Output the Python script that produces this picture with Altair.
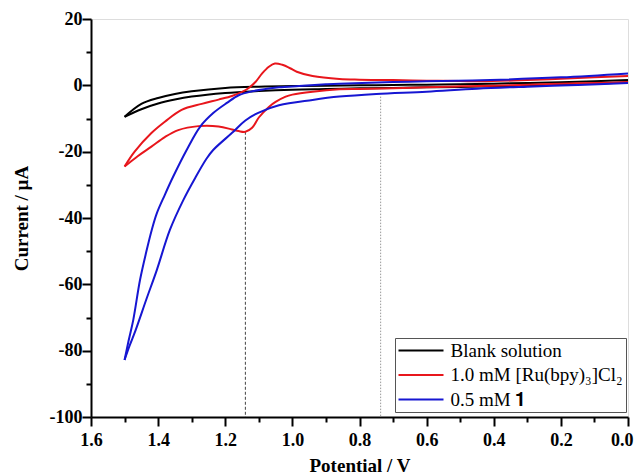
import altair as alt
import pandas as pd

# ---------------- data ----------------
series_names = ["Blank solution", "1.0 mM [Ru(bpy)\u2083]Cl\u2082", "0.5 mM \U0001D7CF"]
series_colors = ["#000000", "#e8161c", "#1616d2"]

# Blank solution: forward (0 -> 1.5 V) then reverse (1.5 -> 0 V)
blank_E = [0.0, 0.1, 0.2, 0.3, 0.4, 0.5, 0.6, 0.7, 0.8, 0.9, 1.0, 1.1, 1.2, 1.3, 1.35, 1.4, 1.45, 1.5,
           1.45, 1.4, 1.35, 1.3, 1.2, 1.1, 1.0, 0.9, 0.8, 0.7, 0.6, 0.5, 0.4, 0.3, 0.2, 0.1, 0.0]
blank_I = [0.9, 0.5, 0.2, -0.1, -0.3, -0.5, -0.6, -0.8, -0.9, -1.1, -1.3, -1.7, -2.3, -3.4, -4.3, -5.5, -7.2, -9.5,
           -5.6, -3.8, -2.6, -1.8, -0.8, -0.4, -0.2, -0.1, 0.0, 0.1, 0.2, 0.3, 0.5, 0.7, 0.9, 1.2, 1.6]

# 1.0 mM [Ru(bpy)3]Cl2
ru_E = [0.0, 0.1, 0.2, 0.3, 0.4, 0.5, 0.6, 0.7, 0.8, 0.86, 0.94, 1.0, 1.02, 1.05, 1.07, 1.1, 1.12, 1.14,
        1.16, 1.18, 1.22, 1.28, 1.34, 1.38, 1.42, 1.46, 1.5,
        1.47, 1.42, 1.38, 1.33, 1.27, 1.22, 1.18, 1.15, 1.13, 1.11, 1.09, 1.07, 1.052, 1.03, 1.0, 0.987,
        0.94, 0.86, 0.8, 0.7, 0.6, 0.5, 0.44, 0.3, 0.2, 0.1, 0.0]
ru_I = [1.0, 0.7, 0.5, 0.2, -0.1, -0.3, -0.6, -0.9, -1.1, -1.2, -1.9, -2.8, -3.4, -5.0, -6.5, -9.7, -12.8, -14.0,
        -13.8, -13.3, -12.4, -12.3, -13.5, -15.6, -18.5, -21.3, -24.5,
        -20.0, -14.4, -11.0, -7.4, -5.6, -4.3, -3.2, -2.0, -0.8, 1.0, 3.6, 5.6, 6.6, 6.2, 4.8, 4.1,
        2.8, 1.9, 1.7, 1.6, 1.4, 1.3, 1.2, 1.6, 2.0, 2.4, 2.8]

# 0.5 mM 1
c1_E = [0.0, 0.15, 0.3, 0.45, 0.6, 0.75, 0.86, 0.94, 1.04, 1.1, 1.14, 1.176, 1.236, 1.255, 1.29, 1.325,
        1.365, 1.404, 1.435, 1.467, 1.485, 1.5,
        1.488, 1.474, 1.454, 1.436, 1.419, 1.404, 1.38, 1.355, 1.315, 1.275, 1.235, 1.195, 1.16, 1.12,
        1.08, 1.04, 0.98, 0.9, 0.86, 0.7, 0.6, 0.41, 0.2, 0.0]
c1_I = [0.7, 0.1, -0.4, -1.0, -1.9, -2.6, -3.4, -4.4, -6.0, -8.2, -10.6, -14.0, -19.5, -22.0, -28.0, -34.6,
        -43.6, -55.7, -64.5, -73.8, -78.5, -82.8,
        -77.0, -70.7, -58.7, -50.5, -43.6, -38.6, -33.0, -27.5, -19.5, -12.5, -8.3, -5.3, -3.0, -1.8,
        -1.1, -0.6, -0.2, 0.3, 0.5, 1.0, 1.2, 1.6, 2.4, 3.6]

# guide lines (potential, top current)
guide_E = [1.14, 0.737]
guide_top = [-14.0, -3.4]
y_bottom = -100

x_major = [0.0, 0.2, 0.4, 0.6, 0.8, 1.0, 1.2, 1.4, 1.6]
x_minor = [0.1, 0.3, 0.5, 0.7, 0.9, 1.1, 1.3, 1.5]
y_major = [-100, -80, -60, -40, -20, 0, 20]
y_minor = [-90, -70, -50, -30, -10, 10]

# ---------------- tables ----------------
rows = []
for name, E, I in zip(series_names, [blank_E, ru_E, c1_E], [blank_I, ru_I, c1_I]):
    v = E.index(max(E))  # switching (vertex) potential
    for k in range(len(E)):
        if k <= v:
            rows.append({"series": name, "branch": name + " fwd", "E": E[k], "I": I[k], "k": k})
        if k >= v:
            rows.append({"series": name, "branch": name + " rev", "E": E[k], "I": I[k], "k": k})
curves = pd.DataFrame(rows)

guides = pd.DataFrame({"E": guide_E, "top": guide_top, "bottom": [y_bottom] * 2})

FONT = "Liberation Serif"
xscale = alt.Scale(domain=[0, 1.6], reverse=True, nice=False, zero=False)
yscale = alt.Scale(domain=[-100, 20], nice=False, zero=False)

x_axis = alt.Axis(values=x_major, format=".1f", title="Potential / V", grid=False,
                  labelFont=FONT, labelFontWeight="bold", labelFontSize=18, labelColor="black",
                  labelFlush=False, labelPadding=5, tickSize=9, tickWidth=2, tickColor="black",
                  labelAlign={"condition": {"test": "datum.value == 0", "value": "right"}, "value": "center"},
                  labelOffset={"condition": {"test": "datum.value == 0", "value": 5}, "value": 0},
                  domainColor="black", domainWidth=2, titleFont=FONT, titleFontWeight="bold",
                  titleFontSize=19, titleColor="black", titlePadding=7, orient="bottom")
y_axis = alt.Axis(values=y_major, labelExpr="'' + datum.value", title="Current / \u00b5A", grid=False,
                  labelFont=FONT, labelFontWeight="bold", labelFontSize=18, labelColor="black",
                  labelFlush=False, labelPadding=0, tickSize=9, tickWidth=2, tickColor="black",
                  domainColor="black", domainWidth=2, titleFont=FONT, titleFontWeight="bold",
                  titleFontSize=19, titleColor="black", titlePadding=18, orient="left")
x_minor_axis = alt.Axis(values=x_minor, labels=False, domain=False, grid=False, title=None,
                        tickSize=5, tickWidth=2, tickColor="black", orient="bottom")
y_minor_axis = alt.Axis(values=y_minor, labels=False, domain=False, grid=False, title=None,
                        tickSize=5, tickWidth=2, tickColor="black", orient="left")

lines = alt.Chart(curves).mark_line(strokeWidth=2, interpolate="catmull-rom").encode(
    x=alt.X("E:Q", scale=xscale, axis=x_axis),
    y=alt.Y("I:Q", scale=yscale, axis=y_axis),
    color=alt.Color("series:N",
                    scale=alt.Scale(domain=series_names, range=series_colors),
                    sort=series_names,
                    legend=alt.Legend(title=None, orient="none", legendX=304, legendY=319,
                                      symbolType="stroke", symbolSize=2025, symbolStrokeWidth=2,
                                      clipHeight=20, rowPadding=4.5, padding=2.5,
                                      strokeColor="#555555", fillColor="white",
                                      labelFont=FONT, labelFontSize=19, labelColor="black",
                                      labelOffset=6, labelLimit=400)),
    detail="branch:N",
    order="k:Q",
)

guide1 = alt.Chart(guides.iloc[[0]]).mark_rule(color="#444444", strokeWidth=1, strokeDash=[3, 2]).encode(
    x=alt.X("E:Q", scale=xscale, axis=None),
    y=alt.Y("top:Q", scale=yscale, axis=None),
    y2="bottom:Q",
)
guide2 = alt.Chart(guides.iloc[[1]]).mark_rule(color="#999999", strokeWidth=1, strokeDash=[1.5, 1.5]).encode(
    x=alt.X("E:Q", scale=xscale, axis=x_minor_axis),
    y=alt.Y("top:Q", scale=yscale, axis=y_minor_axis),
    y2="bottom:Q",
)

chart = alt.layer(guide1, guide2, lines).resolve_axis(x="independent", y="independent").properties(
    width=537, height=398,
    autosize=alt.AutoSizeParams(type="none"),
    padding={"left": 83, "top": 11, "right": 6, "bottom": 56},
).configure_view(stroke="black", strokeWidth=2).configure(background="white")

chart.save("out.html", embed_options={"renderer": "svg", "actions": False})
